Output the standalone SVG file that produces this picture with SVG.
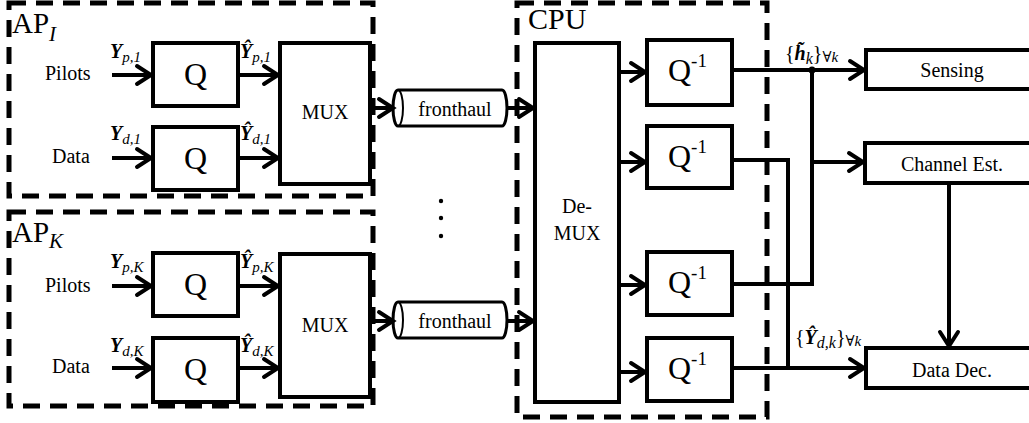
<svg xmlns="http://www.w3.org/2000/svg" width="1029" height="423" viewBox="0 0 1029 423">
<style>
text{font-family:'Liberation Serif','DejaVu Serif',serif;fill:#000}
.box{fill:#fff;stroke:#000;stroke-width:4}
.dash{fill:none;stroke:#000;stroke-width:5;stroke-dasharray:17 10}
.ln{fill:none;stroke:#000;stroke-width:4}
.by{font-weight:bold;font-style:italic;font-size:20px}
.sb{font-style:italic;font-size:15px;font-weight:normal}
</style>
<defs>
<marker id="ah" viewBox="0 0 18 22" refX="16" refY="11" markerWidth="18" markerHeight="22" markerUnits="userSpaceOnUse" orient="auto" overflow="visible">
<path d="M2,2 L16,11 L2,20" fill="none" stroke="#000" stroke-width="4" stroke-linejoin="miter" stroke-linecap="round"/>
</marker>
</defs>
<rect width="1029" height="423" fill="#fff"/>

<g id="ap1">
<rect class="dash" x="9" y="3" width="364" height="193"/>
<text x="12" y="33" font-size="29">AP<tspan font-style="italic" font-size="21" dy="8">I</tspan></text>
<text x="45" y="80" font-size="20">Pilots</text>
<text x="52" y="163" font-size="20">Data</text>
<text class="by" x="110" y="58">Y<tspan class="sb" dy="4">p,1</tspan></text>
<text class="by" x="110" y="140">Y<tspan class="sb" dy="4">d,1</tspan></text>
<text class="by" x="240" y="58">Ŷ<tspan class="sb" dy="4">p,1</tspan></text>
<text class="by" x="240" y="140">Ŷ<tspan class="sb" dy="4">d,1</tspan></text>
</g>
<g id="ap1-q1"><rect class="box" x="153" y="43" width="85" height="63"/><text x="195.5" y="85" font-size="32" text-anchor="middle">Q</text></g>
<g id="ap1-q2"><rect class="box" x="153" y="127" width="85" height="63"/><text x="195.5" y="169" font-size="32" text-anchor="middle">Q</text></g>
<g id="ap1-mux"><rect class="box" x="280" y="43" width="90" height="141"/><text x="325" y="119" font-size="20" text-anchor="middle">MUX</text></g>

<g id="apk">
<rect class="dash" x="9" y="212" width="364" height="194"/>
<text x="12" y="242" font-size="29">AP<tspan font-style="italic" font-size="21" dy="6">K</tspan></text>
<text x="45" y="292" font-size="20">Pilots</text>
<text x="52" y="373" font-size="20">Data</text>
<text class="by" x="110" y="268">Y<tspan class="sb" dy="4">p,K</tspan></text>
<text class="by" x="110" y="352">Y<tspan class="sb" dy="4">d,K</tspan></text>
<text class="by" x="240" y="268">Ŷ<tspan class="sb" dy="4">p,K</tspan></text>
<text class="by" x="240" y="352">Ŷ<tspan class="sb" dy="4">d,K</tspan></text>
</g>
<g id="apk-q1"><rect class="box" x="153" y="253" width="85" height="63"/><text x="195.5" y="295" font-size="32" text-anchor="middle">Q</text></g>
<g id="apk-q2"><rect class="box" x="153" y="338" width="85" height="64"/><text x="195.5" y="380" font-size="32" text-anchor="middle">Q</text></g>
<g id="apk-mux"><rect class="box" x="280" y="254" width="90" height="143"/><text x="325" y="332" font-size="20" text-anchor="middle">MUX</text></g>

<g id="fronthaul1">
<path d="M398,90 L502,90 A5,18 0 0 1 502,126 L398,126 A5,18 0 0 1 398,90 Z" fill="#fff" stroke="#000" stroke-width="3"/>
<path d="M398,90 A5,18 0 0 1 398,126" fill="none" stroke="#000" stroke-width="2"/>
<text x="455" y="116" font-size="20" text-anchor="middle">fronthaul</text>
</g>
<g id="fronthaulk">
<path d="M398,302 L502,302 A5,18 0 0 1 502,338 L398,338 A5,18 0 0 1 398,302 Z" fill="#fff" stroke="#000" stroke-width="3"/>
<path d="M398,302 A5,18 0 0 1 398,338" fill="none" stroke="#000" stroke-width="2"/>
<text x="455" y="328" font-size="20" text-anchor="middle">fronthaul</text>
</g>
<g id="dots"><circle cx="441" cy="201" r="2.2"/><circle cx="441" cy="218" r="2.2"/><circle cx="441" cy="236" r="2.2"/></g>

<g id="cpu">
<rect class="dash" x="517" y="3" width="250" height="414"/>
<text x="528" y="29" font-size="30">CPU</text>
</g>
<g id="demux"><rect class="box" x="535" y="43" width="84" height="359"/><text x="577" y="213" font-size="20" text-anchor="middle">De-</text><text x="577" y="240" font-size="20" text-anchor="middle">MUX</text></g>
<g id="qi1"><rect class="box" x="647" y="40" width="85" height="65"/><text x="668" y="81" font-size="32">Q<tspan font-size="19" dy="-14">-1</tspan></text></g>
<g id="qi2"><rect class="box" x="647" y="126" width="85" height="62"/><text x="668" y="167" font-size="32">Q<tspan font-size="19" dy="-14">-1</tspan></text></g>
<g id="qi3"><rect class="box" x="647" y="252" width="85" height="63"/><text x="668" y="293" font-size="32">Q<tspan font-size="19" dy="-14">-1</tspan></text></g>
<g id="qi4"><rect class="box" x="647" y="338" width="85" height="63"/><text x="668" y="379" font-size="32">Q<tspan font-size="19" dy="-14">-1</tspan></text></g>

<g id="sensing"><rect class="box" x="866" y="50" width="180" height="39"/><text x="952" y="77" font-size="20" text-anchor="middle">Sensing</text></g>
<g id="chest"><rect class="box" x="865" y="143" width="180" height="40"/><text x="952" y="171" font-size="20" text-anchor="middle">Channel Est.</text></g>
<g id="datadec"><rect class="box" x="866" y="348" width="180" height="40"/><text x="952" y="377" font-size="20" text-anchor="middle">Data Dec.</text></g>

<g id="connectors">
<line class="ln" x1="112" y1="75" x2="151" y2="75" marker-end="url(#ah)"/>
<line class="ln" x1="112" y1="158" x2="151" y2="158" marker-end="url(#ah)"/>
<line class="ln" x1="238" y1="75" x2="278" y2="75" marker-end="url(#ah)"/>
<line class="ln" x1="238" y1="158" x2="278" y2="158" marker-end="url(#ah)"/>
<line class="ln" x1="112" y1="286" x2="151" y2="286" marker-end="url(#ah)"/>
<line class="ln" x1="112" y1="368" x2="151" y2="368" marker-end="url(#ah)"/>
<line class="ln" x1="238" y1="286" x2="278" y2="286" marker-end="url(#ah)"/>
<line class="ln" x1="238" y1="368" x2="278" y2="368" marker-end="url(#ah)"/>
<line class="ln" x1="370" y1="108" x2="393" y2="108" marker-end="url(#ah)"/>
<line class="ln" x1="370" y1="321" x2="393" y2="321" marker-end="url(#ah)"/>
<line class="ln" x1="507" y1="108" x2="533" y2="108" marker-end="url(#ah)"/>
<line class="ln" x1="507" y1="321" x2="533" y2="321" marker-end="url(#ah)"/>
<line class="ln" x1="619" y1="72" x2="645" y2="72" marker-end="url(#ah)"/>
<line class="ln" x1="619" y1="162" x2="645" y2="162" marker-end="url(#ah)"/>
<line class="ln" x1="619" y1="285" x2="645" y2="285" marker-end="url(#ah)"/>
<line class="ln" x1="619" y1="372" x2="645" y2="372" marker-end="url(#ah)"/>
<line class="ln" x1="732" y1="70" x2="864" y2="70" marker-end="url(#ah)"/>
<polyline class="ln" points="732,284 812,284 812,70"/>
<circle cx="812" cy="70" r="3.5"/>
<line class="ln" x1="812" y1="162" x2="863" y2="162" marker-end="url(#ah)"/>
<polyline class="ln" points="732,160 788,160 788,368"/>
<line class="ln" x1="732" y1="368" x2="864" y2="368" marker-end="url(#ah)"/>
<line class="ln" x1="949" y1="183" x2="949" y2="346" marker-end="url(#ah)"/>
</g>
<g id="labels">
<text x="785" y="60" font-size="20">{<tspan font-weight="bold" font-style="italic">h̃</tspan><tspan font-style="italic" font-size="16" dy="4">k</tspan><tspan dy="-4">}</tspan><tspan font-size="15" dy="2">∀<tspan font-style="italic">k</tspan></tspan></text>
<text x="795" y="344" font-size="20">{<tspan font-weight="bold" font-style="italic">Ŷ</tspan><tspan font-style="italic" font-size="16" dy="4">d,k</tspan><tspan dy="-4">}</tspan><tspan font-size="15" dy="2">∀<tspan font-style="italic">k</tspan></tspan></text>
</g>
</svg>
